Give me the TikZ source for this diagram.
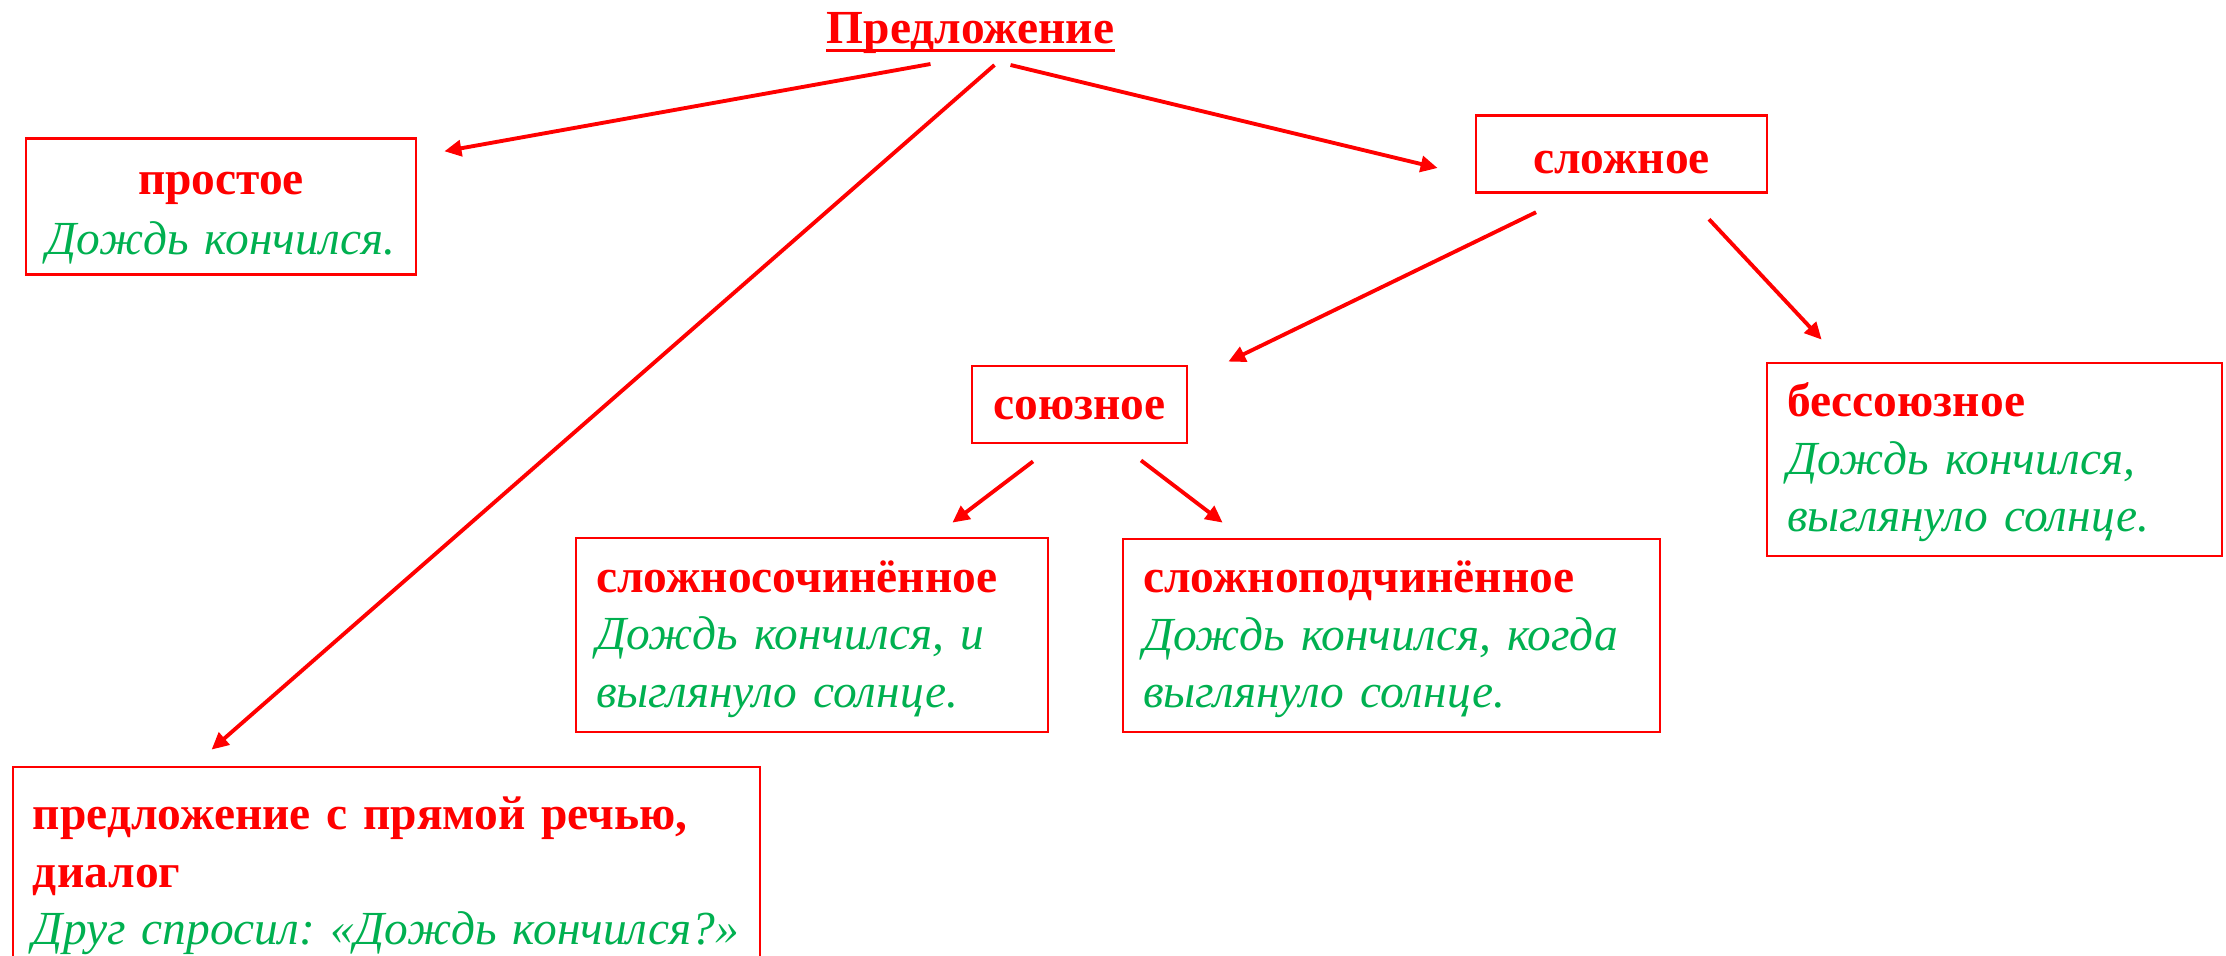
\documentclass[tikz,border=0pt]{standalone}
\usepackage{fontspec}
\setmainfont{Liberation Serif}
\usepackage{tikz}
\usetikzlibrary{arrows.meta,positioning,calc}
\definecolor{headred}{RGB}{255,0,0}
\definecolor{examplegreen}{RGB}{0,176,80}

\newcommand{\kind}[1]{\mbox{\bfseries\color{headred}#1}}
\newcommand{\sample}[1]{\mbox{\itshape\color{examplegreen}#1}}
\frenchspacing

\begin{document}
\begin{tikzpicture}[
    kindbox/.style={draw=headred,line width=0.8pt,inner xsep=0.2cm,inner ysep=0pt,
        align=left,font=\fontsize{13.5}{16.3}\selectfont,
        execute at begin node=\rule{0pt}{14pt},
        execute at end node=\rule[-5.6pt]{0pt}{0pt}},
    link/.style={draw=headred,line width=1.1pt,-{Triangle[length=1.7mm,width=1.6mm]}}
]
    % page frame
    \useasboundingbox (0,0) rectangle (22.26,-9.55);

    % sentence kinds
    \node[inner sep=0pt,anchor=base,font=\fontsize{13.5}{16.1}\selectfont] (title) at (9.705,-0.43) {\kind{Предложение}};
    \draw[headred,line width=0.9pt] ([yshift=-0.075cm]title.base west) -- ([yshift=-0.075cm]title.base east);

    \node[kindbox,align=center,text width=3.5cm,minimum height=1.35cm,
        font=\fontsize{13.5}{17}\selectfont,execute at begin node={\rule{0pt}{16pt}},
        execute at end node={\rule[-5.1pt]{0pt}{0pt}}] (prost) at (2.21,-2.065)
        {\kind{простое}\\\sample{Дождь кончился.}};
    \node[kindbox,align=center,text width=2.51cm,minimum height=0.76cm,
        execute at begin node={\rule{0pt}{16.5pt}}] (slozh) at (16.215,-1.54)
        {\kind{сложное}};
    \node[kindbox,align=center,text width=1.75cm,minimum height=0.77cm] (soyuz) at (10.795,-4.045)
        {\kind{союзное}};
    \node[kindbox,text width=4.15cm,minimum height=1.93cm] (bessoyuz) at (19.945,-4.595)
        {\kind{бессоюзное}\\\sample{Дождь кончился,}\\\sample{выглянуло солнце.}};
    \node[kindbox,text width=4.32cm,minimum height=1.94cm] (sochin) at (8.12,-6.35)
        {\kind{сложносочинённое}\\\sample{Дождь кончился, и}\\\sample{выглянуло солнце.}};
    \node[kindbox,text width=4.97cm,minimum height=1.93cm] (podchin) at (13.915,-6.355)
        {\kind{сложноподчинённое}\\\sample{Дождь кончился, когда}\\\sample{выглянуло солнце.}};
    \node[kindbox,text width=7.07cm,minimum height=2.11cm] (pryam) at (3.865,-8.725)
        {\kind{предложение с прямой речью,}\\\kind{диалог}\\\sample{Друг спросил: «Дождь кончился?»}};

    % arrows
    \draw[link] ([shift={(-0.40,-0.21)}]title.base) -- ([shift={(0.27,-0.14)}]prost.north east);
    \draw[link] ([shift={(0.24,-0.22)}]title.base) -- ([shift={(2.00,0.16)}]pryam.north west);
    \draw[link] ([shift={(0.40,-0.22)}]title.base) -- ([shift={(-0.37,-0.14)}]slozh.west);
    \draw[link] ([shift={(-0.855,-0.18)}]slozh.south) -- ([shift={(0.40,0.03)}]soyuz.north east);
    \draw[link] ([shift={(0.875,-0.25)}]slozh.south) -- ([shift={(0.56,0.22)}]bessoyuz.north west);
    \draw[link] ([shift={(-0.465,-0.17)}]soyuz.south) -- ([shift={(-0.97,0.14)}]sochin.north east);
    \draw[link] ([shift={(0.615,-0.16)}]soyuz.south) -- ([shift={(1.01,0.15)}]podchin.north west);
\end{tikzpicture}
\end{document}
